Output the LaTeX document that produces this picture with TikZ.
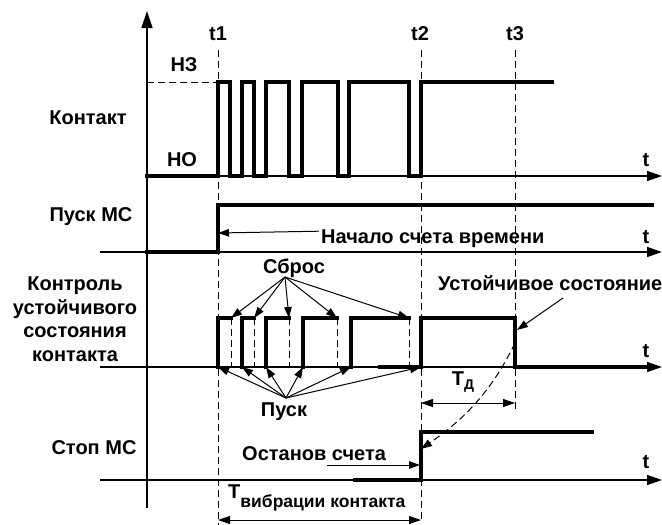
\documentclass[tikz,border=0pt]{standalone}
\usepackage{fontspec}
\setmainfont{Liberation Sans}
\usetikzlibrary{arrows.meta}
\begin{document}
\begin{tikzpicture}[x=1pt,y=-1pt,
  lbl/.style={font=\bfseries\fontsize{20}{23.5}\selectfont, inner sep=0pt},
  sig/.style={line width=3.2pt, line join=miter, line cap=rect},
  axisline/.style={line width=1.4pt, -{Triangle[length=15pt,width=10pt]}},
  guide/.style={dash pattern=on 7pt off 4pt, line width=1pt},
  ptr/.style={line width=1pt, -{Triangle[length=11pt,width=7.5pt]}},
  dimline/.style={line width=1pt, {Triangle[length=12pt,width=8pt]}-{Triangle[length=12pt,width=8pt]}},
]
\useasboundingbox (0,0) rectangle (662,525);

% time guide lines
\coordinate (g1a) at (218,50);  \coordinate (g1b) at (218,525);
\coordinate (g2a) at (421,50);  \coordinate (g2b) at (421,523);
\coordinate (g3a) at (515,50);  \coordinate (g3b) at (515,410);
\draw[guide] (g1a) -- (g1b);
\draw[guide] (g2a) -- (g2b);
\draw[guide] (g3a) -- (g3b);
\coordinate (nzA) at (147,82); \coordinate (nzB) at (218,82);
\draw[guide] (nzA) -- (nzB);

% axes
\coordinate (vaB) at (147,508); \coordinate (vaT) at (147,11);
\draw[axisline,-{Triangle[length=17pt,width=11pt]}] (vaB) -- (vaT);
\coordinate (a1L) at (147,176); \coordinate (a1R) at (662,176);
\coordinate (a2L) at (100,252); \coordinate (a2R) at (662,252);
\coordinate (a3L) at (100,367); \coordinate (a3R) at (662,367);
\coordinate (a4L) at (100,480); \coordinate (a4R) at (662,480);
\draw[axisline] (a1L) -- (a1R);
\draw[axisline] (a2L) -- (a2R);
\draw[axisline] (a3L) -- (a3R);
\draw[axisline] (a4L) -- (a4R);

% contact signal
\draw[sig] (147,176) -- (218,176) -- (218,82) -- (230,82) -- (230,176) -- (242,176) -- (242,82)
  -- (254,82) -- (254,176) -- (266,176) -- (266,82) -- (289,82) -- (289,176) -- (302,176)
  -- (302,82) -- (338,82) -- (338,176) -- (349,176) -- (349,82) -- (409,82) -- (409,176)
  -- (421,176) -- (421,82) -- (552,82);

% start MC signal
\coordinate (pr) at (218,233);
\draw[sig] (147,252) -- (218,252) -- (218,205) -- (652,205);

% control signal
\coordinate (c1) at (218,367); \coordinate (c2) at (242,367); \coordinate (c3) at (266,367);
\coordinate (c4) at (303,367); \coordinate (c5) at (351,367); \coordinate (c6) at (421,367);
\coordinate (s1) at (231,318); \coordinate (s2) at (254,318); \coordinate (s3) at (289,318);
\coordinate (s4) at (337,318); \coordinate (s5) at (409,318);
\draw[sig] (c1) -- (218,318) -- (s1);
\draw[sig] (c2) -- (242,318) -- (s2);
\draw[sig] (c3) -- (266,318) -- (s3);
\draw[sig] (c4) -- (303,318) -- (s4);
\draw[sig] (c5) -- (351,318) -- (s5);
\draw[sig] (380,367) -- (c6) -- (421,318) -- (515,318) -- (515,367) -- (648,367);
\foreach \x in {231,254,289,337,409} \draw[guide] (\x,318) -- (\x,367);

% stop MC signal
\coordinate (st) at (421,449);
\coordinate (st2) at (420,465);
\draw[sig] (355,480) -- (421,480) -- (421,432) -- (592,432);

% labels
\node[lbl,anchor=base] (t1) at (218,40) {t1};
\node[lbl,anchor=base] (t2) at (420,40) {t2};
\node[lbl,anchor=base] (t3) at (515,40) {t3};
\node[lbl,anchor=base] (nz) at (184,71.5) {НЗ};
\node[lbl,anchor=base] (no) at (182,166.5) {НО};
\node[lbl,anchor=base] (kont) at (88,124) {Контакт};
\node[lbl,anchor=base] (pusk) at (91,221.5) {Пуск МС};
\node[lbl,anchor=base,align=center] (ctrl) at (75,361) {Контроль\\устойчивого\\состояния\\контакта};
\node[lbl,anchor=base] (stop) at (94,454) {Стоп МС};
\node[lbl,anchor=base] (tA) at (646,166.5) {t};
\node[lbl,anchor=base] (tB) at (646,243) {t};
\node[lbl,anchor=base] (tC) at (646,357) {t};
\node[lbl,anchor=base] (tD) at (646,468) {t};

\node[lbl,anchor=base west] (nach) at (321,243) {Начало счета времени};
\draw[ptr] (nach.west) ++(-2,-7) -- (pr);

\node[lbl,anchor=base] (sbros) at (294,273) {Сброс};
\coordinate (sh) at (285,277);
\foreach \p in {s1,s2,s3,s4,s5} \draw[ptr] (sh) -- (\p);

\node[lbl,anchor=base] (puskL) at (284,416.5) {Пуск};
\coordinate (ph) at (286,398);
\foreach \p in {c1,c2,c3,c4,c5,c6} \draw[ptr] (ph) -- (\p);

\node[lbl,anchor=base west] (ust) at (438,290) {Устойчивое состояние};
\coordinate (uA) at (563,298); \coordinate (uB) at (517,330);
\draw[ptr] (uA) -- (uB);

\coordinate (cA) at (515,343);
\draw[ptr,dash pattern=on 7pt off 4pt] (cA) .. controls (490,395) and (460,422) .. (st);

\node[lbl,anchor=base] (td) at (463,385) {Т\raisebox{-4pt}{\fontsize{14}{14}\selectfont Д}};
\coordinate (dA) at (421,403); \coordinate (dB) at (515,403);
\draw[dimline] (dA) -- (dB);

\node[lbl,anchor=base west] (ost) at (242,460) {Останов счета};
\coordinate (oA) at (327,465);
\draw[ptr] (oA) -- (st2);

\node[lbl,anchor=base west] (tv) at (228,498) {Т\raisebox{-9pt}{\fontsize{17.5}{17.5}\selectfont вибрации контакта}};
\coordinate (vA) at (218,520); \coordinate (vB) at (421,520);
\draw[dimline] (vA) -- (vB);
\end{tikzpicture}
\end{document}
